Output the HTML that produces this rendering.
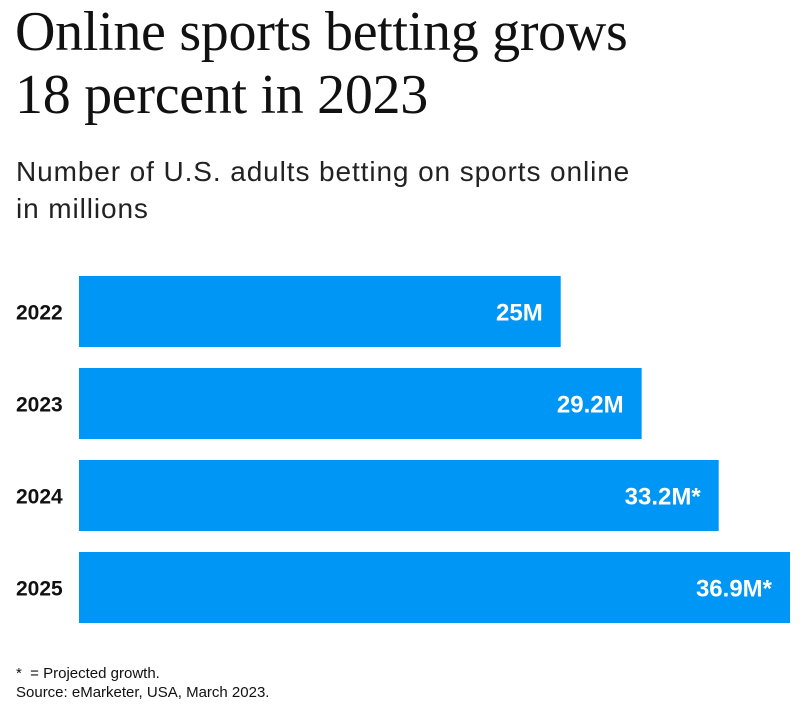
<!DOCTYPE html>
<html><head><meta charset="utf-8"><style>
body{margin:0;width:808px;height:710px;background:#fff;position:relative;overflow:hidden;font-family:"Liberation Sans",sans-serif;color:#111}
.t{position:absolute;left:15px;top:1px;font-family:"Liberation Serif",serif;font-size:56px;line-height:63px;letter-spacing:-0.3px;margin:0;font-weight:normal;white-space:nowrap}
.s{position:absolute;left:16px;top:153px;font-size:28px;line-height:37px;letter-spacing:0.9px;color:#222;white-space:nowrap}
.f{position:absolute;left:16px;top:664px;font-size:15px;line-height:19px;color:#111}
</style></head><body>
<h1 class="t">Online sports betting grows<br>18 percent in 2023</h1>
<div class="s">Number of U.S. adults betting on sports online<br>in millions</div>
<svg id="c" width="808" height="710" style="position:absolute;left:0;top:0"></svg>
<div class="f">*&nbsp; = Projected growth.<br>Source: eMarketer, USA, March 2023.</div>
<script>
const categories=["2022","2023","2024","2025"];
const values=[25,29.2,33.2,36.9];
const valueLabels=["25M","29.2M","33.2M*","36.9M*"];
const NS="http://www.w3.org/2000/svg";
const svg=document.getElementById('c');
const x0=79,pxPerUnit=711/36.9;
function xs(v){return v*pxPerUnit;}
function ys(i){return 276+i*92;}
const bh=71;
categories.forEach((c,i)=>{
  const r=document.createElementNS(NS,'rect');
  r.setAttribute('x',x0);r.setAttribute('y',ys(i));
  r.setAttribute('width',xs(values[i]));r.setAttribute('height',bh);
  r.setAttribute('fill','#0096f5');
  
  
  svg.appendChild(r);
  const l=document.createElementNS(NS,'text');
  l.setAttribute('x',16);l.setAttribute('y',ys(i)+bh/2+8);
  l.setAttribute('font-size','21');l.setAttribute('font-weight','bold');
  l.setAttribute('font-family','Liberation Sans, sans-serif');l.setAttribute('fill','#111');
  l.textContent=c;
  
  
  svg.appendChild(l);
  const v=document.createElementNS(NS,'text');
  v.setAttribute('x',x0+xs(values[i])-18);v.setAttribute('y',ys(i)+bh/2+9);
  v.setAttribute('text-anchor','end');
  v.setAttribute('font-size','24');v.setAttribute('font-weight','bold');
  v.setAttribute('font-family','Liberation Sans, sans-serif');v.setAttribute('fill','#fff');
  v.textContent=valueLabels[i];
  
  
  svg.appendChild(v);
});
</script>
</body></html>
